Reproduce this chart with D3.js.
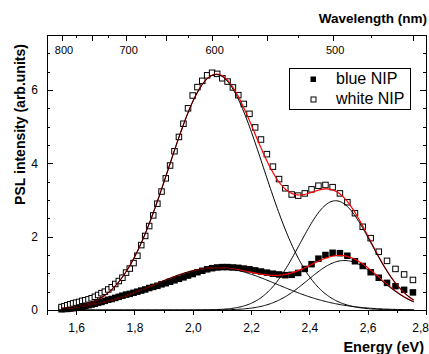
<!DOCTYPE html>
<html>
<head>
<meta charset="utf-8">
<script src="https://cdn.jsdelivr.net/npm/d3@7"></script>
<style>
  html, body { margin: 0; padding: 0; background: #fff; }
  svg { display: block; font-family: "Liberation Sans", Arial, sans-serif; }
  .axis path, .axis line { stroke: #000; shape-rendering: crispEdges; }
  .axis text { fill: #000; }
</style>
</head>
<body>
<svg id="chart" width="429" height="354"></svg>
<script>
// Excitation wavelengths of the PSL scan (nm)
const wavelengthsNm = [
  800, 795, 790, 785, 780, 775, 770, 765, 760, 755,
  750, 745, 740, 735, 730, 725, 720, 715, 710, 705,
  700, 695, 690, 685, 680, 675, 670, 665, 660, 655,
  650, 645, 640, 635, 630, 625, 620, 615, 610, 605,
  600, 595, 590, 585, 580, 575, 570, 565, 560, 555,
  550, 545, 540, 535, 530, 525, 520, 515, 510, 505,
  500, 495, 490, 485, 480, 475, 470, 465, 460, 455, 450
];

// PSL intensity, white NIP (arb. units)
const whiteNIP = [
  0.08, 0.10, 0.13, 0.155, 0.18, 0.20, 0.22, 0.25, 0.265, 0.29,
  0.32, 0.36, 0.41, 0.46, 0.50, 0.56, 0.62, 0.71, 0.79, 0.88,
  1.02, 1.13, 1.28, 1.48, 1.77, 2.02, 2.29, 2.58, 2.90, 3.23,
  3.59, 3.94, 4.33, 4.72, 5.08, 5.50, 5.85, 6.08, 6.25, 6.40,
  6.47, 6.44, 6.32, 6.23, 6.07, 5.86, 5.62, 5.35, 4.98, 4.65,
  4.25, 3.91, 3.57, 3.32, 3.15, 3.12, 3.18, 3.29, 3.39, 3.41,
  3.35, 3.18, 2.94, 2.64, 2.27, 1.96, 1.59, 1.34, 1.12, 0.97, 0.82
];

// PSL intensity, blue NIP (arb. units)
const blueNIP = [
  0.02, 0.03, 0.03, 0.04, 0.05, 0.06, 0.07, 0.09, 0.11, 0.13,
  0.15, 0.17, 0.20, 0.22, 0.25, 0.28, 0.30, 0.33, 0.36, 0.39,
  0.42, 0.44, 0.47, 0.50, 0.53, 0.56, 0.60, 0.63, 0.66, 0.70,
  0.73, 0.77, 0.81, 0.85, 0.89, 0.94, 0.98, 1.03, 1.07, 1.11,
  1.14, 1.16, 1.17, 1.17, 1.16, 1.15, 1.13, 1.11, 1.08, 1.05,
  1.02, 0.99, 0.97, 0.95, 0.96, 1.01, 1.12, 1.25, 1.40, 1.50,
  1.56, 1.55, 1.48, 1.33, 1.20, 1.03, 0.88, 0.74, 0.65, 0.55, 0.48
];

// Gaussian fit components (centre eV, height, sigma eV)
const whitePeakCenters = [2.08, 2.49];
const whitePeakHeights = [6.42, 2.98];
const whitePeakSigmas  = [0.162, 0.1225];
const bluePeakCenters  = [2.08, 2.52];
const bluePeakHeights  = [1.15, 1.35];
const bluePeakSigmas   = [0.21, 0.125];
const fitRange = [1.55, 2.76];

// Axis ticks
const energyTicks      = [1.6, 1.8, 2.0, 2.2, 2.4, 2.6, 2.8];
const energyMinorTicks = [1.5, 1.7, 1.9, 2.1, 2.3, 2.5, 2.7];
const intensityTicks      = [0, 2, 4, 6];
const intensityMinorTicks = [0.5, 1, 1.5, 2.5, 3, 3.5, 4.5, 5, 5.5, 6.5, 7];
const wavelengthLabelTicks = [800, 700, 600, 500];
const wavelengthMajorTicks = [800, 750, 700, 650, 600, 550, 500, 450];
const wavelengthMinorTicks = [775, 725, 675, 625, 575, 525, 475];
const seriesNames = ["blue NIP", "white NIP"];

const HC = 1239.84; // eV·nm
const toEnergy = nm => HC / nm;

const svg = d3.select("#chart");
const W = +svg.attr("width");
const L = 47, R = 426, T = 35, B = 310;

const x = d3.scaleLinear().domain([1.5, 2.8]).range([L, R]);
const y = d3.scaleLinear().domain([0, 7.5]).range([B, T]);

// ---- axes ----
const fmtComma = d => d.toFixed(1).replace(".", ",");

// bottom (energy)
svg.append("g").attr("class", "axis")
  .attr("transform", `translate(0,${B})`)
  .call(d3.axisBottom(x).tickValues(energyMinorTicks).tickSize(3).tickFormat(""))
  .call(g => g.select(".domain").remove());
svg.append("g").attr("class", "axis")
  .attr("transform", `translate(0,${B})`)
  .call(d3.axisBottom(x).tickValues(energyTicks).tickSize(5).tickPadding(8)
        .tickFormat(fmtComma))
  .call(g => g.selectAll("text").style("font-size", "12px"))
  // keep the last label inside the page
  .call(g => g.selectAll(".tick").filter(d => d === 2.8).select("text")
        .attr("text-anchor", "end").attr("x", W - 0.5 - x(2.8)));

// left (intensity), ticks pointing inward
svg.append("g").attr("class", "axis")
  .attr("transform", `translate(${L},0)`)
  .call(d3.axisLeft(y).tickValues(intensityMinorTicks).tickSize(-3).tickFormat(""))
  .call(g => g.select(".domain").remove());
svg.append("g").attr("class", "axis")
  .attr("transform", `translate(${L},0)`)
  .call(d3.axisLeft(y).tickValues(intensityTicks).tickSize(-6).tickPadding(9)
        .tickFormat(d3.format("d")))
  .call(g => g.selectAll("text").style("font-size", "12px"));

// right, inward ticks
svg.append("g").attr("class", "axis")
  .attr("transform", `translate(${R},0)`)
  .call(d3.axisRight(y).tickValues(intensityMinorTicks).tickSize(-3).tickFormat(""))
  .call(g => g.select(".domain").remove());
svg.append("g").attr("class", "axis")
  .attr("transform", `translate(${R},0)`)
  .call(d3.axisRight(y).tickValues(intensityTicks).tickSize(-6).tickFormat(""));

// top (wavelength), inward ticks, labels inside the frame
svg.append("g").attr("class", "axis")
  .attr("transform", `translate(0,${T})`)
  .call(d3.axisTop(x).tickValues(wavelengthMinorTicks.map(toEnergy)).tickSize(-3).tickFormat(""))
  .call(g => g.select(".domain").remove());
svg.append("g").attr("class", "axis")
  .attr("transform", `translate(0,${T})`)
  .call(d3.axisTop(x).tickValues(wavelengthMajorTicks.map(toEnergy)).tickSize(-6).tickFormat(""))
  .call(g => g.select(".domain").remove());
svg.append("g").attr("class", "axis")
  .attr("transform", `translate(0,${T})`)
  .call(d3.axisTop(x).tickValues(wavelengthLabelTicks.map(toEnergy)).tickSize(0).tickPadding(-18.5)
        .tickFormat(e => String(Math.round(HC / e))))
  .call(g => g.selectAll("text").style("font-size", "11px").attr("x", 2));

// ---- data points ----
const pts = wavelengthsNm.map((nm, i) => ({ e: toEnergy(nm), w: whiteNIP[i], b: blueNIP[i] }));

svg.append("g").selectAll("rect").data(pts).join("rect")
  .attr("x", d => x(d.e) - 3.25).attr("y", d => y(d.b) - 3.25)
  .attr("width", 6.5).attr("height", 6.5)
  .attr("fill", "#000");

svg.append("g").selectAll("rect").data(pts).join("rect")
  .attr("x", d => x(d.e) - 2.75).attr("y", d => y(d.w) - 2.75)
  .attr("width", 5.5).attr("height", 5.5)
  .attr("fill", "#fff").attr("stroke", "#000").attr("stroke-width", 1);

// ---- fitted curves: red cumulative fit under the black Gaussian components ----
const gauss = (e, c, h, s) => h * Math.exp(-((e - c) ** 2) / (2 * s * s));
const grid = d3.range(fitRange[0], fitRange[1] + 1e-9, 0.004);
const line = d3.line().x(d => x(d[0])).y(d => y(d[1]));

function drawSum(centers, heights, sigmas) {
  svg.append("path")
    .attr("d", line(grid.map(e => [e, d3.sum(centers, (c, k) => gauss(e, c, heights[k], sigmas[k]))])))
    .attr("fill", "none").attr("stroke", "#ff0000").attr("stroke-width", 1.2);
}
function drawComponents(centers, heights, sigmas) {
  centers.forEach((c, k) => {
    svg.append("path")
      .attr("d", line(grid.map(e => [e, gauss(e, c, heights[k], sigmas[k])])))
      .attr("fill", "none").attr("stroke", "#000").attr("stroke-width", 1);
  });
}
drawSum(bluePeakCenters, bluePeakHeights, bluePeakSigmas);
drawSum(whitePeakCenters, whitePeakHeights, whitePeakSigmas);
drawComponents(bluePeakCenters, bluePeakHeights, bluePeakSigmas);
drawComponents(whitePeakCenters, whitePeakHeights, whitePeakSigmas);

// ---- frame ----
svg.append("rect")
  .attr("x", L).attr("y", T).attr("width", R - L).attr("height", B - T)
  .attr("fill", "none").attr("stroke", "#000").attr("stroke-width", 1)
  .attr("shape-rendering", "crispEdges");

// ---- legend ----
const lg = svg.append("g");
lg.append("rect").attr("x", 289.5).attr("y", 68.5).attr("width", 120.5).attr("height", 40.5)
  .attr("fill", "#fff").attr("stroke", "#000").attr("stroke-width", 1)
  .attr("shape-rendering", "crispEdges");
lg.append("rect").attr("x", 310.5).attr("y", 76.5).attr("width", 5.5).attr("height", 5.5).attr("fill", "#000");
lg.append("rect").attr("x", 311).attr("y", 97).attr("width", 5).attr("height", 5)
  .attr("fill", "#fff").attr("stroke", "#000").attr("stroke-width", 1);
lg.selectAll("text").data(seriesNames).join("text")
  .attr("x", 336).attr("y", (d, i) => 84.3 + i * 19.8)
  .style("font-size", "16px").text(d => d);

// ---- axis titles ----
svg.append("text").attr("x", 427).attr("y", 22.5).attr("text-anchor", "end")
  .style("font-size", "13.5px").style("font-weight", "bold").text("Wavelength (nm)");
svg.append("text").attr("x", 424).attr("y", 351.5).attr("text-anchor", "end")
  .style("font-size", "14.5px").style("font-weight", "bold").text("Energy (eV)");
svg.append("text").attr("transform", "translate(25,124.5) rotate(-90)")
  .attr("text-anchor", "middle")
  .style("font-size", "14px").style("font-weight", "bold").text("PSL intensity (arb.units)");
</script>
</body>
</html>
